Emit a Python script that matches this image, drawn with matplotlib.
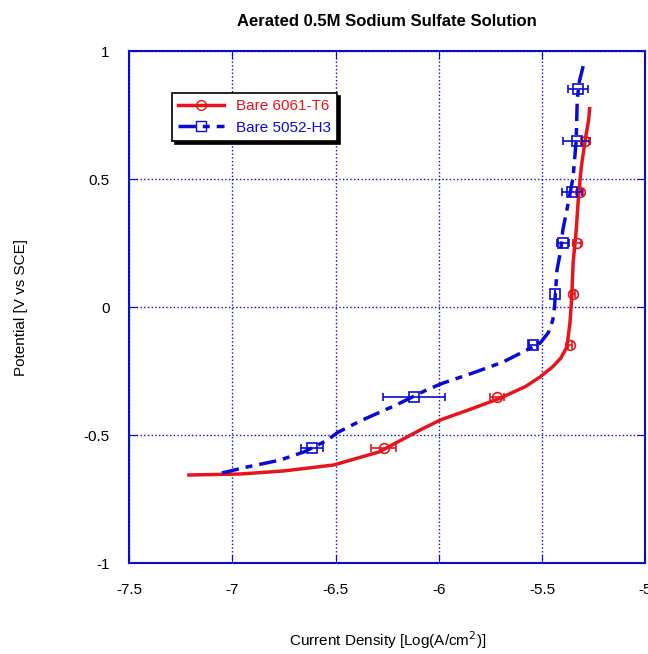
import matplotlib
matplotlib.use('Agg')
from matplotlib import pyplot as plt
import numpy as np

plt.rcParams['font.family'] = ['Liberation Sans', 'DejaVu Sans']

# Bare 6061-T6 curve
red_x = [-7.21, -6.96, -6.75, -6.51, -6.29, -6.09, -5.99, -5.85, -5.70, -5.58,
         -5.51, -5.45, -5.41, -5.38, -5.365, -5.356, -5.35, -5.335, -5.325,
         -5.31, -5.29, -5.275, -5.27]
red_y = [-0.656, -0.652, -0.64, -0.617, -0.566, -0.48, -0.44, -0.40, -0.355,
         -0.31, -0.273, -0.234, -0.2, -0.156, -0.06, 0.047, 0.172, 0.30, 0.42,
         0.55, 0.66, 0.73, 0.775]
# Bare 5052-H3 curve
blue_x = [-7.05, -6.93, -6.77, -6.65, -6.54, -6.49, -6.40, -6.35, -6.2, -6.06,
          -5.98, -5.83, -5.69, -5.58, -5.51, -5.47, -5.448, -5.44, -5.428,
          -5.41, -5.40, -5.37, -5.35, -5.335, -5.33, -5.32, -5.30]
blue_y = [-0.648, -0.625, -0.598, -0.565, -0.52, -0.49, -0.453, -0.434, -0.38,
          -0.324, -0.297, -0.256, -0.215, -0.17, -0.141, -0.1, -0.05, 0.0,
          0.145, 0.22, 0.30, 0.42, 0.508, 0.65, 0.81, 0.88, 0.945]

# markers with error bars
mark_y = [-0.55, -0.35, -0.15, 0.05, 0.25, 0.45, 0.65]
red_mx = [-6.266, -5.719, -5.365, -5.351, -5.332, -5.317, -5.293]
red_err = [0.06, 0.035, 0.012, 0.01, 0.02, 0.015, 0.02]
blue_my = [-0.55, -0.35, -0.15, 0.05, 0.25, 0.45, 0.65, 0.85]
blue_mx = [-6.614, -6.12, -5.545, -5.438, -5.399, -5.356, -5.332, -5.327]
blue_err = [0.055, 0.15, 0.02, 0.0, 0.03, 0.05, 0.065, 0.05]

fig = plt.figure(figsize=(6.48, 6.54), dpi=100)
ax = fig.add_axes([0.199, 0.139, 0.797, 0.783])

ax.plot(red_x, red_y, color='#e8141b', lw=2.5, zorder=3)
ax.plot(blue_x, blue_y, color='#0a0ad6', lw=2.5, ls=(0, (5, 2, 2, 2)), zorder=3)
ax.errorbar(red_mx, mark_y, xerr=red_err, fmt='o', mfc='none', mec='#e8141b',
            ecolor='#e8141b', ms=7, mew=1.2, capsize=3, elinewidth=1.2, zorder=4)
ax.errorbar(blue_mx, blue_my, xerr=blue_err, fmt='s', mfc='none', mec='#0a0ad6',
            ecolor='#0a0ad6', ms=7, mew=1.2, capsize=3, elinewidth=1.2, zorder=4)

# legend handles
h1, = ax.plot([], [], color='#e8141b', lw=2.5, marker='o', mfc='none', ms=7)
h2, = ax.plot([], [], color='#0a0ad6', lw=2.5, ls=(0, (5, 2, 2, 2)),
              marker='s', mfc='none', ms=7)
leg = ax.legend([h1, h2], ['Bare 6061-T6', 'Bare 5052-H3'], loc='upper left',
                bbox_to_anchor=(0.083, 0.918), borderaxespad=0, fontsize=11,
                fancybox=False, shadow={'color': 'black', 'alpha': 1},
                framealpha=1, edgecolor='black', handlelength=3,
                labelcolor='linecolor')
leg.get_frame().set_linewidth(1.2)

ax.set_xlim(-7.5, -5)
ax.set_ylim(-1, 1)
ax.set_xticks(np.arange(-7.5, -4.9, 0.5))
ax.set_yticks([-1, -0.5, 0, 0.5, 1])
ax.set_xticklabels(['-7.5', '-7', '-6.5', '-6', '-5.5', '-5'])
ax.set_yticklabels(['-1', '-0.5', '0', '0.5', '1'])
ax.grid(True, color='#0a0ad6', ls=':', lw=1)
ax.tick_params(direction='in', length=6, color='#0a0ad6', labelsize=11,
               pad=14, top=True, right=True)
for s in ax.spines.values():
    s.set_color('#0a0ad6')
    s.set_linewidth(1.5)

ax.set_title('Aerated 0.5M Sodium Sulfate Solution', fontweight='bold',
             fontsize=12, pad=18)
ax.set_xlabel('Current Density [Log(A/cm$^2$)]', fontsize=11)
ax.xaxis.set_label_coords(0.5, -0.13)
ax.set_ylabel('Potential [V vs SCE]', fontsize=11, labelpad=40)

fig.savefig('out.png', dpi=100)
